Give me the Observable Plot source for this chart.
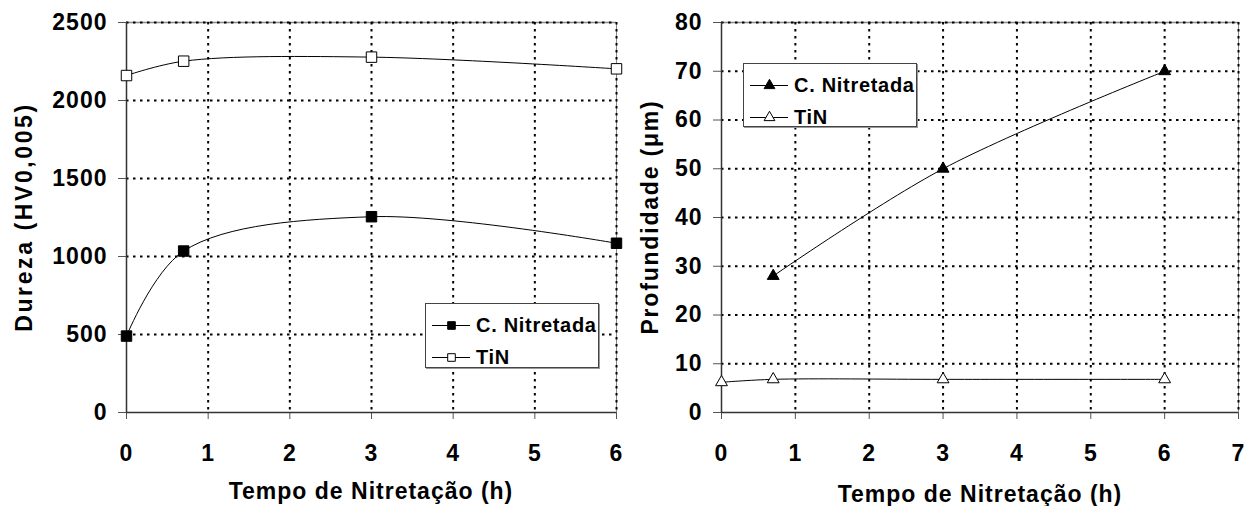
<!DOCTYPE html>
<html><head><meta charset="utf-8">
<script src="https://cdn.jsdelivr.net/npm/d3@7"></script>
<script src="https://cdn.jsdelivr.net/npm/@observablehq/plot@0.6"></script>
<style>
body{margin:0;background:#fff;width:1251px;height:506px;position:relative;overflow:hidden;font-family:"Liberation Sans",Arial,sans-serif;font-weight:bold;color:#000}
.chart{position:absolute;top:0}
.chart svg g[aria-label$="axis tick label"] text{letter-spacing:1px;font-size:23px;font-weight:bold}
.title{position:absolute;font-size:23px;white-space:nowrap;transform:translate(-50%,-50%);letter-spacing:1px}
.ytitle{transform:translate(-50%,-50%) rotate(-90deg)}
.legend{position:absolute;border:1px solid #444;box-shadow:1px 1px 0 #999;background:#fff;box-sizing:border-box;padding-top:5px}
.row{display:flex;align-items:center;height:32px;font-size:20px;letter-spacing:0.7px}
.row svg{margin-left:6px;margin-right:6px}
</style></head>
<body>
<div id="left" class="chart" style="left:0"></div>
<div id="right" class="chart" style="left:640px"></div>
<div class="title" style="left:371px;top:491px">Tempo de Nitretação (h)</div>
<div class="title" style="left:980px;top:494px">Tempo de Nitretação (h)</div>
<div class="title ytitle" style="left:24px;top:217px;letter-spacing:2.6px">Dureza (HV0,005)</div>
<div class="title ytitle" style="left:650px;top:217px;letter-spacing:1.8px">Profundidade (μm)</div>
<div id="legL" class="legend" style="left:425px;top:303px;width:174px;height:65px"></div>
<div id="legR" class="legend" style="left:743px;top:63px;width:174px;height:64px"></div>
<script>
// ---- data ----
const seriesNames = ["C. Nitretada", "TiN"];
const hours = [0, 0.7, 3, 6];
const durezaNitretada = [490, 1035, 1255, 1085];
const durezaTiN = [2160, 2252, 2278, 2203];
const profHoursNitretada = [0.7, 3, 6];
const profNitretada = [28, 50, 70];
const profHoursTiN = [0, 0.7, 3, 6];
const profTiN = [6.2, 6.8, 6.8, 6.8];
const leftXTicks = [0, 1, 2, 3, 4, 5, 6];
const leftYTicks = [0, 500, 1000, 1500, 2000, 2500];
const rightXTicks = [0, 1, 2, 3, 4, 5, 6, 7];
const rightYTicks = [0, 10, 20, 30, 40, 50, 60, 70, 80];

const rows = (xs, ys) => xs.map((x, i) => ({x, y: ys[i]}));

const grid = {stroke: "#000", strokeOpacity: 1, strokeWidth: 2, strokeDasharray: "2.5,4.5"};

function chart({width, marginLeft, marginRight, xTicks, yTicks, series}) {
  const xMax = xTicks[xTicks.length - 1], yMax = yTicks[yTicks.length - 1];
  const marks = [
    Plot.ruleY([yMax], {stroke: "#888", strokeWidth: 1.5}),
    Plot.ruleX([xMax], {stroke: "#888", strokeWidth: 1}),
    Plot.gridY(yTicks.filter(v => v > 0), grid),
    Plot.gridX(xTicks.filter(v => v > 0), grid),
    Plot.axisY(yTicks, {tickSize: 8, tickPadding: 11, stroke: "#555", fill: "#000", label: null, fontSize: 23, fontWeight: "bold", tickFormat: d => String(d)}),
    Plot.axisX(xTicks, {tickSize: 7, tickPadding: 25, stroke: "#555", fill: "#000", label: null, fontSize: 23, fontWeight: "bold", tickFormat: d => String(d)}),
    Plot.ruleX([0], {stroke: "#333", strokeWidth: 1.5}),
    Plot.ruleY([0], {stroke: "#333", strokeWidth: 1.5})
  ];
  for (const s of series) {
    marks.push(Plot.line(s.data, {x: "x", y: "y", curve: "catmull-rom", stroke: "#000", strokeWidth: 1}));
    marks.push(Plot.dot(s.data, {x: "x", y: "y", symbol: s.symbol, r: s.r, fill: s.fill, stroke: "#000", strokeWidth: 1}));
  }
  return Plot.plot({
    width, height: 506,
    marginLeft, marginRight, marginTop: 22, marginBottom: 94,
    x: {domain: [0, xMax]},
    y: {domain: [0, yMax]},
    style: {fontFamily: '"Liberation Sans", Arial, sans-serif', fontSize: "23px", fontWeight: "bold", color: "#000", overflow: "visible", background: "transparent"},
    marks
  });
}

document.getElementById("left").append(chart({
  width: 640, marginLeft: 126, marginRight: 24, xTicks: leftXTicks, yTicks: leftYTicks,
  series: [
    {data: rows(hours, durezaNitretada), symbol: "square", r: 5.9, fill: "#000"},
    {data: rows(hours, durezaTiN), symbol: "square", r: 5.9, fill: "#fff"}
  ]
}));
document.getElementById("right").append(chart({
  width: 611, marginLeft: 81, marginRight: 13, xTicks: rightXTicks, yTicks: rightYTicks,
  series: [
    {data: rows(profHoursNitretada, profNitretada), symbol: "triangle", r: 4.4, fill: "#000"},
    {data: rows(profHoursTiN, profTiN), symbol: "triangle", r: 4.4, fill: "#fff"}
  ]
}));

function legend(id, symbol, r) {
  const el = document.getElementById(id);
  const fills = ["#000", "#fff"];
  seriesNames.forEach((name, i) => {
    const row = document.createElement("div");
    row.className = "row";
    const sw = Plot.plot({
      width: 38, height: 16, margin: 0,
      x: {domain: [0, 1], axis: null}, y: {domain: [0, 1], axis: null},
      style: {overflow: "visible", background: "transparent"},
      marks: [
        Plot.ruleY([0.5], {x1: 0, x2: 1, stroke: "#000", strokeWidth: 1}),
        Plot.dot([{x: 0.5, y: 0.5}], {x: "x", y: "y", symbol, r, fill: fills[i], stroke: "#000", strokeWidth: 1})
      ]
    });
    row.append(sw);
    const t = document.createElement("span");
    t.textContent = name;
    row.append(t);
    el.append(row);
  });
}
legend("legL", "square", 4.3);
legend("legR", "triangle", 4.0);
</script>
</body></html>
